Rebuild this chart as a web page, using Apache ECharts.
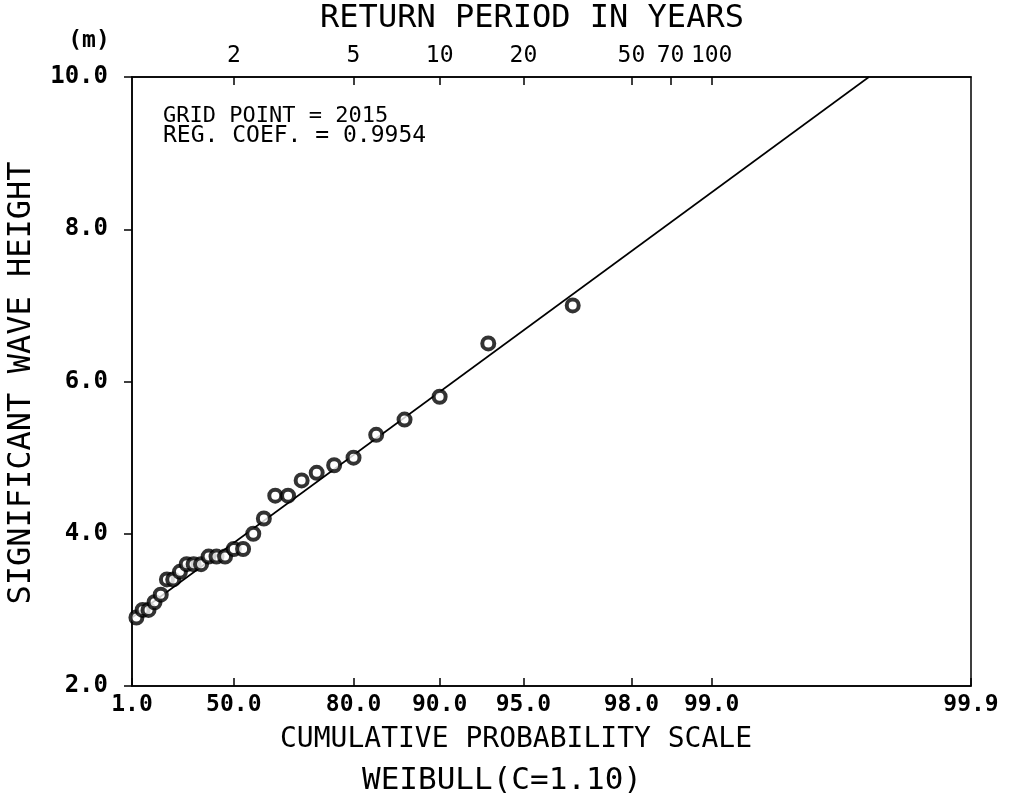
<!DOCTYPE html>
<html>
<head>
<meta charset="utf-8">
<script src="https://cdn.jsdelivr.net/npm/echarts@6/dist/echarts.min.js"></script>
<style>
html,body{margin:0;padding:0;background:#fff;}
#chart{width:1022px;height:802px;}
</style>
</head>
<body>
<div id="chart"></div>
<script>
// ---- data ----
const probTicks = [1.0, 50.0, 80.0, 90.0, 95.0, 98.0, 99.0, 99.9];
const probLabels = ['1.0', '50.0', '80.0', '90.0', '95.0', '98.0', '99.0', '99.9'];
const returnPeriods = [2, 5, 10, 20, 50, 70, 100];
const returnLabels = ['2', '5', '10', '20', '50', '70', '100'];
const yTickValues = [2, 4, 6, 8, 10];

// cumulative probability (%) and significant wave height (m) of plotted points
const probs = [3.3, 6.7, 10.0, 13.3, 16.7, 20.0, 23.3, 26.7, 30.0, 33.3,
  36.7, 40.0, 43.3, 46.7, 50.0, 53.3, 56.7, 60.0, 63.3, 66.7,
  70.0, 73.3, 76.7, 80.0, 83.3, 86.7, 90.0, 93.3, 96.7];
const heights = [2.9, 3.0, 3.0, 3.1, 3.2, 3.4, 3.4, 3.5, 3.6, 3.6,
  3.6, 3.7, 3.7, 3.7, 3.8, 3.8, 4.0, 4.2, 4.5, 4.5,
  4.7, 4.8, 4.9, 5.0, 5.3, 5.5, 5.8, 6.5, 7.0];

// fitted regression line end points
const fitProbs = [1.0, 99.75];
const fitHeights = [2.9, 10.0];

// ---- Weibull probability scale (C = 1.10) ----
const C = 1.10;
function wu(pPercent) { return Math.pow(-Math.log(1 - pPercent / 100), 1 / C); }
const xMin = wu(probTicks[0]);
const xMax = wu(probTicks[probTicks.length - 1]);
const probTickU = probTicks.map(wu);
const returnTickU = returnPeriods.map(t => wu(100 * (1 - 1 / t)));

function nearestLabel(v, us, labels) {
  let best = 0, bd = Infinity;
  us.forEach((u, i) => { const d = Math.abs(u - v); if (d < bd) { bd = d; best = i; } });
  return labels[best];
}

const FONT = 'DejaVu Sans Mono';
const chart = echarts.init(document.getElementById('chart'), null, {renderer: 'canvas'});

const option = {
  backgroundColor: '#fff',
  animation: false,
  grid: {left: 132, right: 51, top: 77, bottom: 116, show: true, borderColor: '#000', borderWidth: 1.5, backgroundColor: 'transparent'},
  xAxis: [
    {
      type: 'value', position: 'bottom', min: xMin, max: xMax,
      axisLine: {show: true, lineStyle: {color: '#000', width: 1.5}},
      splitLine: {show: false},
      axisTick: {show: true, inside: true, length: 8, customValues: probTickU, lineStyle: {color: '#000', width: 1.5}},
      axisLabel: {
        customValues: probTickU, margin: 8, color: '#000',
        fontFamily: FONT, fontSize: 23, fontWeight: 'bold',
        formatter: v => nearestLabel(v, probTickU, probLabels)
      }
    },
    {
      type: 'value', position: 'top', min: xMin, max: xMax,
      axisLine: {show: true, lineStyle: {color: '#000', width: 1.5}},
      splitLine: {show: false},
      axisTick: {show: true, inside: true, length: 8, customValues: returnTickU, lineStyle: {color: '#000', width: 1.5}},
      axisLabel: {
        customValues: returnTickU, margin: 9, color: '#000',
        fontFamily: FONT, fontSize: 23,
        formatter: v => nearestLabel(v, returnTickU, returnLabels)
      }
    }
  ],
  yAxis: {
    type: 'value', min: yTickValues[0], max: yTickValues[yTickValues.length - 1], interval: 2,
    axisLine: {show: true, lineStyle: {color: '#000', width: 1.5}},
    splitLine: {show: false},
    axisTick: {show: true, inside: false, length: 8, lineStyle: {color: '#000', width: 1.5}},
    axisLabel: {
      margin: 24, color: '#000', fontFamily: FONT, fontSize: 24, fontWeight: 'bold',
      formatter: v => v.toFixed(1)
    }
  },
  series: [
    {
      type: 'line', xAxisIndex: 0, symbol: 'none',
      data: fitProbs.map((p, i) => [wu(p), fitHeights[i]]),
      lineStyle: {color: '#000', width: 1.6}, z: 2
    },
    {
      type: 'scatter', xAxisIndex: 0, symbol: 'circle', symbolSize: 12,
      data: probs.map((p, i) => [wu(p), heights[i]]),
      itemStyle: {color: '#fff', borderColor: '#000', borderWidth: 4}, z: 3
    }
  ],
  graphic: [
    {type: 'text', x: 532, y: 19, style: {text: 'RETURN PERIOD IN YEARS', font: '32px "' + FONT + '"', fill: '#000', textAlign: 'center', textVerticalAlign: 'middle'}},
    {type: 'text', x: 89, y: 41, style: {text: '(m)', font: 'bold 23px "' + FONT + '"', fill: '#000', textAlign: 'center', textVerticalAlign: 'middle'}},
    {type: 'text', x: 22, y: 383, rotation: Math.PI / 2, style: {text: 'SIGNIFICANT WAVE HEIGHT', font: '32px "' + FONT + '"', fill: '#000', textAlign: 'center', textVerticalAlign: 'middle'}},
    {type: 'text', x: 516, y: 740, style: {text: 'CUMULATIVE PROBABILITY SCALE', font: '28px "' + FONT + '"', fill: '#000', textAlign: 'center', textVerticalAlign: 'middle'}},
    {type: 'text', x: 502, y: 781, style: {text: 'WEIBULL(C=1.10)', font: '31px "' + FONT + '"', fill: '#000', textAlign: 'center', textVerticalAlign: 'middle'}},
    {type: 'text', x: 163, y: 116, style: {text: 'GRID POINT = 2015', font: '22px "' + FONT + '"', fill: '#000', textAlign: 'left', textVerticalAlign: 'middle'}},
    {type: 'text', x: 163, y: 136, style: {text: 'REG. COEF. = 0.9954', font: '23px "' + FONT + '"', fill: '#000', textAlign: 'left', textVerticalAlign: 'middle'}}
  ]
};
chart.setOption(option);
</script>
</body>
</html>
